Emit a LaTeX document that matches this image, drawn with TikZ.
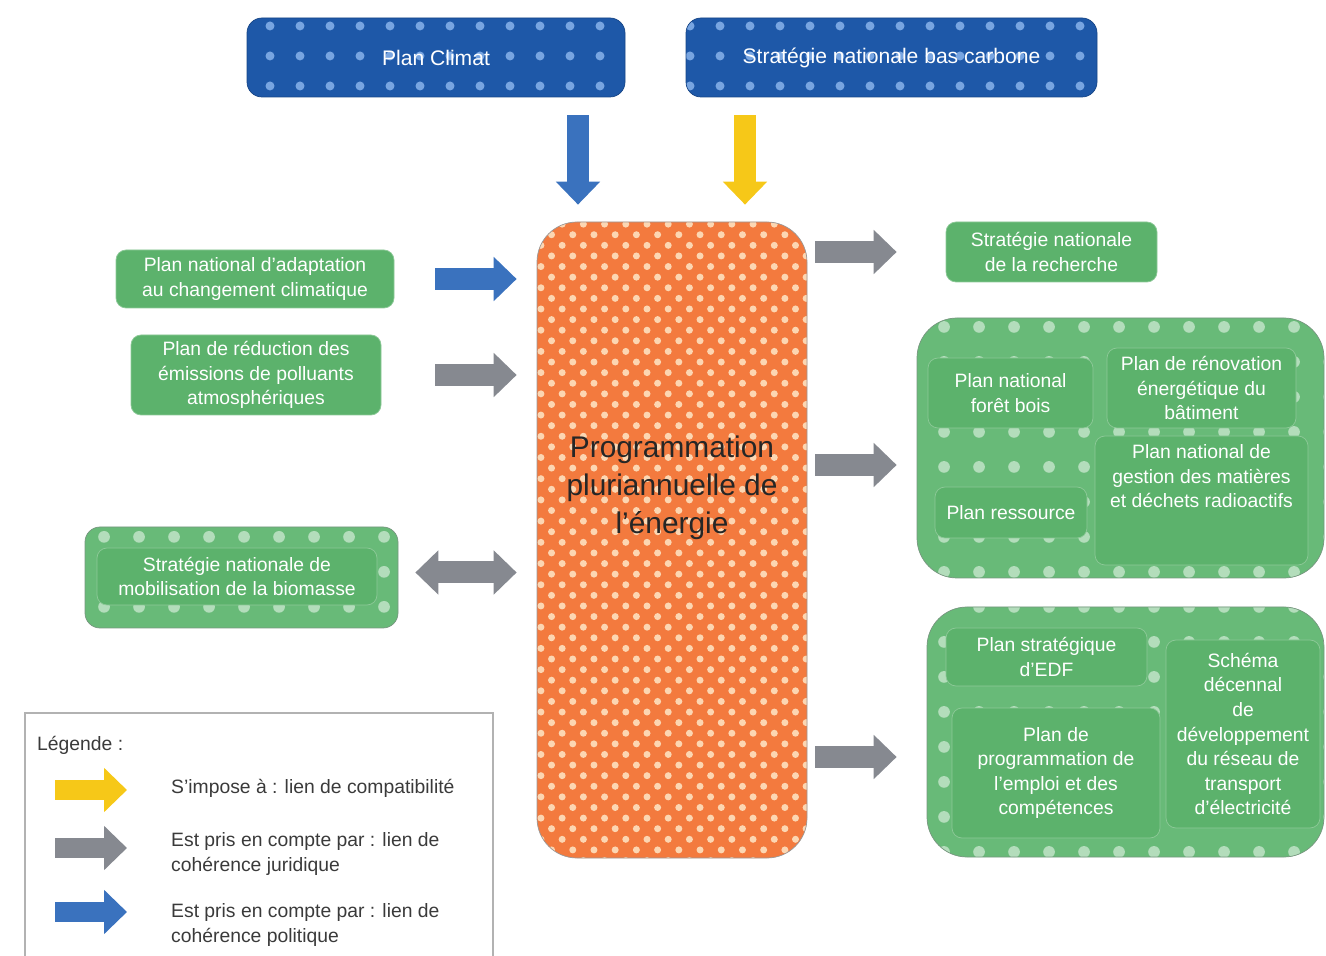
\documentclass[tikz,border=0pt]{standalone}
\usepackage{fontspec}
\setmainfont{Liberation Sans}
\usepackage{tikz}
\usetikzlibrary{positioning}
\usetikzlibrary{arrows.meta}
\usetikzlibrary{patterns.meta}

\definecolor{climblue}{RGB}{30,88,168}
\definecolor{climdot}{RGB}{120,165,225}
\definecolor{ppeorange}{RGB}{243,122,62}
\definecolor{ppedot}{RGB}{252,214,178}
\definecolor{boxgreen}{RGB}{92,178,108}
\definecolor{groupgreen}{RGB}{104,186,120}
\definecolor{groupedge}{RGB}{120,150,128}
\definecolor{arrowblue}{RGB}{58,114,190}
\definecolor{arrowyellow}{RGB}{246,200,24}
\definecolor{arrowgray}{RGB}{134,137,144}
\definecolor{legendtext}{RGB}{58,58,58}

\begin{document}
\begin{tikzpicture}[
topbox/.style={rounded corners=0.3cm, draw=climblue!80!black, preaction={fill=climblue},
  pattern={Dots[distance=0.6cm,radius=0.09cm]}, pattern color=climdot,
  text=white, font=\fontsize{12}{14}\selectfont, align=center},
ppebox/.style={rounded corners=0.8cm, draw=gray!80, preaction={fill=ppeorange},
  pattern={Dots[distance=0.3cm,radius=0.07cm,angle=45]}, pattern color=ppedot},
ppetext/.style={text=black!85, font=\fontsize{17}{21.5}\selectfont, align=center},
gbox/.style={rounded corners=0.2cm, draw=boxgreen!70!white, fill=boxgreen, text=white,
  font=\fontsize{11}{14}\selectfont, align=center, inner sep=2pt},
groupbox/.style={rounded corners=0.8cm, draw=groupedge, preaction={fill=groupgreen},
  pattern={Dots[distance=0.7cm,radius=0.12cm]}, pattern color=white!50!groupgreen},
bigarrow/.style={line width=0.44cm, -{Triangle[width=0.86cm,length=0.46cm]}},
bluearrow/.style={bigarrow, draw=arrowblue},
yellowarrow/.style={bigarrow, draw=arrowyellow},
grayarrow/.style={bigarrow, draw=arrowgray},
legendtxt/.style={text=legendtext, font=\fontsize{11}{14}\selectfont, align=left, anchor=west}
]
\useasboundingbox (0,0) rectangle (26.52,-19.12);

%Nodes
\node[topbox, minimum width=7.56cm, minimum height=1.58cm] (climat) at (8.72,-1.15) {Plan Climat};
\node[topbox, minimum width=8.22cm, minimum height=1.58cm] (snbc)   at (17.83,-1.15) {Stratégie nationale bas carbone};

\node[ppebox, minimum width=5.4cm, minimum height=12.72cm,
  label={[ppetext, yshift=1.05cm]center:{Programmation\\pluriannuelle de\\l'énergie}}] (ppe) at (13.44,-10.8) {};

\node[gbox, minimum width=5.56cm, minimum height=1.16cm] (pnacc) at (5.10,-5.58) {Plan national d'adaptation\\au changement climatique};
\node[gbox, minimum width=5.0cm, minimum height=1.6cm]   (prepa) at (5.12,-7.5)  {Plan de réduction des\\émissions de polluants\\atmosphériques};
\node[groupbox, rounded corners=0.3cm, minimum width=6.26cm, minimum height=2.02cm] (biomgrp) at (4.83,-11.55) {};
\node[gbox, minimum width=5.6cm, minimum height=1.14cm]  (biom)  at (4.74,-11.53) {Stratégie nationale de\\mobilisation de la biomasse};

\node[gbox, minimum width=4.22cm, minimum height=1.2cm] (snr) at (21.03,-5.04) {Stratégie nationale\\de la recherche};

\node[groupbox, minimum width=8.14cm, minimum height=5.2cm] (grp1) at (22.41,-8.96) {};
\node[gbox, minimum width=3.3cm, minimum height=1.4cm]   (pnfb)  at (20.21,-7.86)  {Plan national\\forêt bois};
\node[gbox, minimum width=3.78cm, minimum height=1.6cm]  (preb)  at (24.03,-7.76)  {Plan de rénovation\\énergétique du\\bâtiment};
\node[gbox, minimum width=3.04cm, minimum height=1.02cm] (pres)  at (20.22,-10.25) {Plan ressource};
\node[gbox, minimum width=4.26cm, minimum height=2.58cm,
  label={[gbox, draw=none, fill=none, anchor=north, yshift=-0.1cm]north:{Plan national de\\gestion des matières\\et déchets radioactifs}}] (pngmd) at (24.03,-10.01) {};

\node[groupbox, minimum width=7.94cm, minimum height=5.0cm] (grp2) at (22.51,-14.64) {};
\node[gbox, minimum width=4.02cm, minimum height=1.16cm] (pedf) at (20.93,-13.14) {Plan stratégique\\d'EDF};
\node[gbox, minimum width=4.16cm, minimum height=2.6cm]  (ppec) at (21.12,-15.46) {Plan de\\programmation de\\l'emploi et des\\compétences};
\node[gbox, minimum width=3.08cm, minimum height=3.76cm] (sddr) at (24.86,-14.68) {Schéma\\décennal\\de\\développement\\du réseau de\\transport\\d'électricité};

%Lines
\draw[bluearrow, shorten <=0.36cm, shorten >=0.34cm] ([xshift=-1.88cm]ppe.north |- climat.south) -- ([xshift=-1.88cm]ppe.north);
\draw[yellowarrow, shorten <=0.36cm, shorten >=0.34cm] ([xshift=1.46cm]ppe.north |- snbc.south) -- ([xshift=1.46cm]ppe.north);

\draw[bluearrow, shorten <=0.82cm, shorten >=0.4cm] (pnacc.east) -- (pnacc.east -| ppe.west);
\draw[grayarrow, shorten <=1.08cm, shorten >=0.4cm] (prepa.east) -- (prepa.east -| ppe.west);
\draw[grayarrow, {Triangle[width=0.86cm,length=0.46cm]}-{Triangle[width=0.86cm,length=0.46cm]},
  shorten <=0.34cm, shorten >=0.4cm] ([yshift=0.1cm]biomgrp.east) -- ([yshift=0.1cm]biomgrp.east -| ppe.west);

\draw[grayarrow, shorten <=0.16cm, shorten >=0.98cm] (ppe.east |- snr.west) -- (snr.west);
\draw[grayarrow, shorten <=0.16cm, shorten >=0.4cm] ([yshift=-0.34cm]ppe.east |- grp1.west) -- ([yshift=-0.34cm]grp1.west);
\draw[grayarrow, shorten <=0.16cm, shorten >=0.6cm] ([yshift=-0.5cm]ppe.east |- grp2.west) -- ([yshift=-0.5cm]grp2.west);

% legend
\draw[gray!60, line width=0.6pt] (0.5,-19.4) |- (9.86,-14.26) -- (9.86,-19.4);
\node[legendtxt] (legtitle) at (0.62,-14.9) {Légende :};
\coordinate (lgy) at (1.1,-15.8);
\coordinate (lgg) at (1.1,-16.96);
\coordinate (lgb) at (1.1,-18.24);
\draw[yellowarrow, line width=0.4cm] (lgy) -- ++(1.44,0);
\draw[grayarrow, line width=0.4cm] (lgg) -- ++(1.44,0);
\draw[bluearrow, line width=0.4cm] (lgb) -- ++(1.44,0);
\node[legendtxt] (legy) at (3.3,-15.76) {S'impose à : lien de compatibilité};
\node[legendtxt] (legg) at (3.3,-17.08) {Est pris en compte par : lien de\\cohérence juridique};
\node[legendtxt] (legb) at (3.3,-18.5)  {Est pris en compte par : lien de\\cohérence politique};

\end{tikzpicture}
\end{document}
